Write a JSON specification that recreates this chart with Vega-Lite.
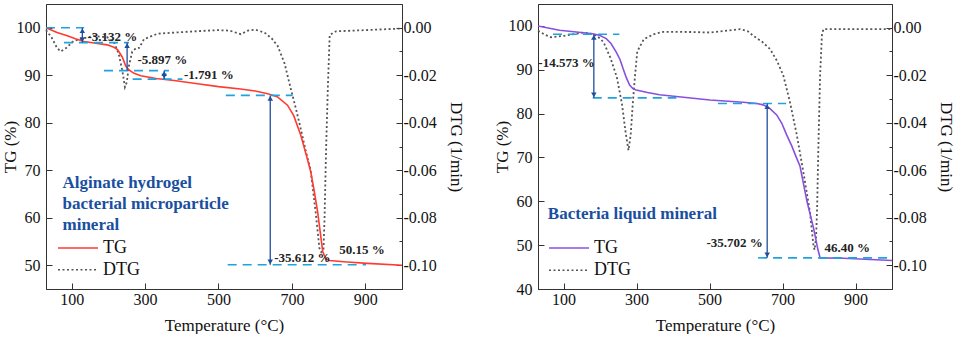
{
  "$schema": "https://vega.github.io/schema/vega-lite/v6.json",
  "padding": {"left": 0, "top": 3, "right": 0, "bottom": 0},
  "background": "white",
  "spacing": 27,
  "datasets": {
    "leftTG": [
      {"T":30,"TG":100},{"T":60,"TG":99.0},{"T":88,"TG":98.3},{"T":110,"TG":97.7},{"T":134,"TG":97.1},
      {"T":170,"TG":96.7},{"T":197,"TG":96.4},{"T":215,"TG":95.9},{"T":225,"TG":95.4},{"T":238,"TG":93.8},
      {"T":247,"TG":92.0},{"T":256,"TG":91.1},{"T":270,"TG":90.4},{"T":288,"TG":89.9},{"T":330,"TG":89.3},
      {"T":379,"TG":88.9},{"T":443,"TG":88.2},{"T":500,"TG":87.6},{"T":560,"TG":87.1},{"T":600,"TG":86.7},
      {"T":634,"TG":86.1},{"T":660,"TG":85.5},{"T":688,"TG":83.7},{"T":705,"TG":81.5},{"T":724,"TG":77.4},
      {"T":740,"TG":73.0},{"T":751,"TG":69.8},{"T":760,"TG":66.0},{"T":770,"TG":61.3},{"T":778,"TG":56.5},
      {"T":784,"TG":52.9},{"T":792,"TG":51.4},{"T":802,"TG":51.0},{"T":850,"TG":50.7},{"T":906,"TG":50.4},
      {"T":1000,"TG":50.0}
    ],
    "leftDTG": [
      {"T":30,"DTG":-0.0010},{"T":45,"DTG":-0.0040},{"T":60,"DTG":-0.0085},{"T":70,"DTG":-0.0100},{"T":85,"DTG":-0.0085},
      {"T":106,"DTG":-0.0055},{"T":130,"DTG":-0.0045},{"T":160,"DTG":-0.0035},{"T":197,"DTG":-0.0040},{"T":215,"DTG":-0.0060},
      {"T":228,"DTG":-0.0110},{"T":238,"DTG":-0.0180},{"T":245,"DTG":-0.0250},{"T":250,"DTG":-0.0230},{"T":256,"DTG":-0.0160},
      {"T":265,"DTG":-0.0100},{"T":276,"DTG":-0.0085},{"T":284,"DTG":-0.0085},{"T":297,"DTG":-0.0048},{"T":334,"DTG":-0.0025},
      {"T":425,"DTG":-0.0016},{"T":497,"DTG":-0.0010},{"T":530,"DTG":-0.0012},{"T":561,"DTG":-0.0027},{"T":580,"DTG":-0.0012},
      {"T":600,"DTG":-0.0008},{"T":625,"DTG":-0.0020},{"T":645,"DTG":-0.0045},{"T":661,"DTG":-0.0076},{"T":680,"DTG":-0.0150},
      {"T":697,"DTG":-0.0257},{"T":710,"DTG":-0.0335},{"T":724,"DTG":-0.0425},{"T":738,"DTG":-0.0520},{"T":751,"DTG":-0.0600},
      {"T":765,"DTG":-0.0780},{"T":775,"DTG":-0.0928},{"T":780,"DTG":-0.0945},{"T":786,"DTG":-0.0935},{"T":789,"DTG":-0.0800},
      {"T":793,"DTG":-0.0520},{"T":798,"DTG":-0.0250},{"T":803,"DTG":-0.0030},{"T":820,"DTG":-0.0015},{"T":900,"DTG":-0.0010},
      {"T":1000,"DTG":-0.0003}
    ],
    "rightTG": [
      {"T":30,"TG":100},{"T":89,"TG":99.0},{"T":135,"TG":98.6},{"T":180,"TG":98.2},{"T":200,"TG":97.8},
      {"T":217,"TG":97.1},{"T":230,"TG":96.0},{"T":244,"TG":94.1},{"T":255,"TG":92.3},{"T":263,"TG":90.3},
      {"T":272,"TG":88.2},{"T":281,"TG":86.5},{"T":290,"TG":85.7},{"T":299,"TG":85.4},{"T":330,"TG":84.8},
      {"T":363,"TG":84.3},{"T":409,"TG":83.9},{"T":501,"TG":83.1},{"T":592,"TG":82.6},{"T":630,"TG":82.3},
      {"T":647,"TG":82.0},{"T":665,"TG":81.2},{"T":684,"TG":79.7},{"T":698,"TG":77.8},{"T":711,"TG":75.2},
      {"T":725,"TG":72.7},{"T":739,"TG":69.8},{"T":748,"TG":68.0},{"T":767,"TG":60.0},{"T":785,"TG":53.9},
      {"T":797,"TG":49.0},{"T":803,"TG":47.1},{"T":867,"TG":47.0},{"T":1000,"TG":46.5}
    ],
    "rightDTG": [
      {"T":30,"DTG":-0.0013},{"T":50,"DTG":-0.0030},{"T":65,"DTG":-0.0040},{"T":101,"DTG":-0.0034},{"T":156,"DTG":-0.0020},
      {"T":183,"DTG":-0.0027},{"T":200,"DTG":-0.0045},{"T":210,"DTG":-0.0062},{"T":228,"DTG":-0.0125},{"T":246,"DTG":-0.0208},
      {"T":260,"DTG":-0.0320},{"T":270,"DTG":-0.0440},{"T":278,"DTG":-0.0516},{"T":284,"DTG":-0.0450},{"T":290,"DTG":-0.0313},
      {"T":296,"DTG":-0.0200},{"T":302,"DTG":-0.0100},{"T":320,"DTG":-0.0048},{"T":348,"DTG":-0.0027},{"T":374,"DTG":-0.0017},
      {"T":450,"DTG":-0.0018},{"T":501,"DTG":-0.0020},{"T":584,"DTG":-0.0006},{"T":605,"DTG":-0.0015},{"T":620,"DTG":-0.0034},
      {"T":645,"DTG":-0.0060},{"T":666,"DTG":-0.0090},{"T":685,"DTG":-0.0140},{"T":702,"DTG":-0.0200},{"T":720,"DTG":-0.0310},
      {"T":739,"DTG":-0.0450},{"T":757,"DTG":-0.0607},{"T":775,"DTG":-0.0774},{"T":785,"DTG":-0.0920},{"T":788,"DTG":-0.0935},
      {"T":792,"DTG":-0.0880},{"T":795,"DTG":-0.0750},{"T":798,"DTG":-0.0520},{"T":803,"DTG":-0.0200},{"T":808,"DTG":-0.0030},
      {"T":812,"DTG":-0.0006},{"T":900,"DTG":-0.0006},{"T":1000,"DTG":-0.0006}
    ],
    "leftDash": [
      {"T":30,"T2":134,"y":100},{"T":79,"T2":256,"y":96.87},{"T":188,"T2":365,"y":90.97},
      {"T":266,"T2":402,"y":89.18},{"T":520,"T2":702,"y":85.76},{"T":525,"T2":902,"y":50.1}
    ],
    "leftArrow": [
      {"T":129,"y":100,"y2":96.87},{"T":251,"y":96.87,"y2":91.0},{"T":352,"y":90.97,"y2":89.18},{"T":641,"y":85.76,"y2":50.1}
    ],
    "leftUp": [{"T":129,"y":100},{"T":251,"y":96.87},{"T":352,"y":90.97},{"T":641,"y":85.76}],
    "leftDown": [{"T":129,"y":96.87},{"T":352,"y":89.18},{"T":641,"y":50.1}],
    "leftText": [
      {"T":143,"y":98.1,"label":"-3.132 %"},{"T":279,"y":93.3,"label":"-5.897 %"},{"T":406,"y":90.15,"label":"-1.791 %"},
      {"T":652,"y":51.5,"label":"-35.612 %"},{"T":829,"y":53.25,"label":"50.15 %"}
    ],
    "leftTitle": [
      {"T":75,"y":67.4,"label":"Alginate hydrogel"},{"T":75,"y":62.9,"label":"bacterial microparticle"},{"T":75,"y":58.5,"label":"mineral"}
    ],
    "rightDash": [
      {"T":71,"T2":253,"y":98.1},{"T":180,"T2":409,"y":83.6},{"T":523,"T2":710,"y":82.3},{"T":633,"T2":998,"y":47.1}
    ],
    "rightArrow": [{"T":183,"y":98.1,"y2":83.6},{"T":658,"y":82.3,"y2":47.1}],
    "rightUp": [{"T":183,"y":98.1},{"T":658,"y":82.3}],
    "rightDown": [{"T":183,"y":83.6},{"T":658,"y":47.1}],
    "rightTextL": [{"T":31,"y":91.6,"label":"-14.573 %"},{"T":815,"y":49.25,"label":"46.40 %"}],
    "rightTextR": [{"T":646,"y":50.5,"label":"-35.702 %"}],
    "rightTitle": [{"T":57,"y":57.0,"label":"Bacteria liquid mineral"}]
  },
  "config": {
    "font": "Liberation Serif",
    "view": {"stroke": "#333", "strokeWidth": 1},
    "axis": {
      "labelFont": "Liberation Serif", "titleFont": "Liberation Serif",
      "labelFontSize": 16, "titleFontSize": 17, "titleFontWeight": "normal",
      "labelColor": "#111", "titleColor": "#111", "labelOverlap": false, "labelSeparation": -20,
      "domainColor": "#333", "tickColor": "#333", "grid": false
    },
    "legend": {
      "labelFont": "Liberation Serif", "labelFontSize": 18, "labelColor": "#111",
      "orient": "none", "padding": 0, "labelOffset": 4,
      "symbolStrokeWidth": 1.6, "symbolSize": 1600
    },
    "text": {"font": "Liberation Serif"}
  },
  "resolve": {
    "scale": {"color": "independent", "strokeDash": "independent"},
    "legend": {"color": "independent", "strokeDash": "independent"}
  },
  "hconcat": [
    {
      "width": 356, "height": 285,
      "resolve": {"scale": {"y": "independent"}},
      "layer": [
        {
          "data": {"name": "leftDTG"},
          "mark": {"type": "line", "strokeWidth": 1.8, "color": "#555555"},
          "encoding": {
            "x": {"field": "T", "type": "quantitative", "scale": {"domain": [30, 1000], "nice": false, "zero": false},
              "axis": {"title": "Temperature (°C)", "values": [100,200,300,400,500,600,700,800,900,1000], "format": "d",
                "labelOverlap": false, "labelSeparation": -20, "labelFlush": false, "tickSize": -6, "labelPadding": 8, "titlePadding": 10}},
            "y": {"field": "DTG", "type": "quantitative", "scale": {"domain": [-0.11, 0.01], "nice": false, "zero": false},
              "axis": {"orient": "right", "title": "DTG (1/min)", "values": [-0.1,-0.09,-0.08,-0.07,-0.06,-0.05,-0.04,-0.03,-0.02,-0.01,0],
                "labelOverlap": false, "labelSeparation": -20,
                "labelExpr": "round(datum.value*100) % 2 === 0 ? replace(format(datum.value, '.2f'), '\u2212', '-') : ''",
                "tickSize": {"condition": {"test": "round(datum.value*100) % 2 === 0", "value": -6}, "value": -3},
                "labelPadding": 7, "titlePadding": 10}},
            "strokeDash": {"datum": "DTG", "type": "nominal", "scale": {"domain": ["DTG"], "range": [[2, 2.5]]}, "legend": {"title": null, "legendX": 11, "legendY": 244.7}}
          }
        },
        {
          "layer": [
            {
              "data": {"name": "leftTG"},
              "mark": {"type": "line", "strokeWidth": 1.6},
              "encoding": {
                "x": {"field": "T", "type": "quantitative", "scale": {"domain": [30, 1000], "nice": false, "zero": false},
                  "axis": {"title": "Temperature (°C)", "values": [100,200,300,400,500,600,700,800,900,1000], "format": "d",
                    "labelOverlap": false, "labelSeparation": -20, "labelFlush": false, "tickSize": -6, "labelPadding": 8, "titlePadding": 10}},
                "y": {"field": "TG", "type": "quantitative", "scale": {"domain": [45, 105], "nice": false, "zero": false},
                  "axis": {"orient": "left", "title": "TG (%)", "values": [50,55,60,65,70,75,80,85,90,95,100],
                    "labelOverlap": false, "labelSeparation": -20,
                    "labelExpr": "datum.value % 10 === 0 ? datum.label : ''",
                    "tickSize": {"condition": {"test": "datum.value % 10 === 0", "value": -6}, "value": -3},
                    "labelPadding": 12, "titlePadding": -3}},
                "color": {"datum": "TG", "type": "nominal", "scale": {"domain": ["TG"], "range": ["#ff3b30"]}, "legend": {"title": null, "legendX": 11, "legendY": 223}}
              }
            },
            {
              "data": {"name": "leftDash"},
              "mark": {"type": "rule", "color": "#1fa3e0", "strokeWidth": 1.6, "strokeDash": [9, 6]},
              "encoding": {
                "x": {"field": "T", "type": "quantitative", "scale": {"domain": [30, 1000], "nice": false, "zero": false}},
                "x2": {"field": "T2"},
                "y": {"field": "y", "type": "quantitative", "scale": {"domain": [45, 105], "nice": false, "zero": false}}
              }
            },
            {
              "data": {"name": "leftArrow"},
              "mark": {"type": "rule", "color": "#1f4e9c", "strokeWidth": 1.3},
              "encoding": {
                "x": {"field": "T", "type": "quantitative", "scale": {"domain": [30, 1000], "nice": false, "zero": false}},
                "y": {"field": "y", "type": "quantitative", "scale": {"domain": [45, 105], "nice": false, "zero": false}},
                "y2": {"field": "y2"}
              }
            },
            {
              "data": {"name": "leftUp"},
              "mark": {"type": "point", "shape": "triangle-up", "filled": true, "size": 30, "color": "#1f4e9c", "opacity": 1, "yOffset": 3},
              "encoding": {
                "x": {"field": "T", "type": "quantitative", "scale": {"domain": [30, 1000], "nice": false, "zero": false}},
                "y": {"field": "y", "type": "quantitative", "scale": {"domain": [45, 105], "nice": false, "zero": false}}
              }
            },
            {
              "data": {"name": "leftDown"},
              "mark": {"type": "point", "shape": "triangle-down", "filled": true, "size": 30, "color": "#1f4e9c", "opacity": 1, "yOffset": -3},
              "encoding": {
                "x": {"field": "T", "type": "quantitative", "scale": {"domain": [30, 1000], "nice": false, "zero": false}},
                "y": {"field": "y", "type": "quantitative", "scale": {"domain": [45, 105], "nice": false, "zero": false}}
              }
            },
            {
              "data": {"name": "leftText"},
              "mark": {"type": "text", "align": "left", "baseline": "middle", "fontSize": 13, "fontWeight": "bold", "color": "#222"},
              "encoding": {
                "x": {"field": "T", "type": "quantitative", "scale": {"domain": [30, 1000], "nice": false, "zero": false}},
                "y": {"field": "y", "type": "quantitative", "scale": {"domain": [45, 105], "nice": false, "zero": false}},
                "text": {"field": "label"}
              }
            },
            {
              "data": {"name": "leftTitle"},
              "mark": {"type": "text", "align": "left", "baseline": "middle", "fontSize": 17, "fontWeight": "bold", "color": "#1a4fa0"},
              "encoding": {
                "x": {"field": "T", "type": "quantitative", "scale": {"domain": [30, 1000], "nice": false, "zero": false}},
                "y": {"field": "y", "type": "quantitative", "scale": {"domain": [45, 105], "nice": false, "zero": false}},
                "text": {"field": "label"}
              }
            }
          ]
        }
      ]
    },
    {
      "width": 354, "height": 285,
      "resolve": {"scale": {"y": "independent"}},
      "layer": [
        {
          "data": {"name": "rightDTG"},
          "mark": {"type": "line", "strokeWidth": 1.8, "color": "#555555"},
          "encoding": {
            "x": {"field": "T", "type": "quantitative", "scale": {"domain": [30, 1000], "nice": false, "zero": false},
              "axis": {"title": "Temperature (°C)", "values": [100,200,300,400,500,600,700,800,900,1000], "format": "d",
                "labelOverlap": false, "labelSeparation": -20, "labelFlush": false, "tickSize": -6, "labelPadding": 8, "titlePadding": 10}},
            "y": {"field": "DTG", "type": "quantitative", "scale": {"domain": [-0.11, 0.01], "nice": false, "zero": false},
              "axis": {"orient": "right", "title": "DTG (1/min)", "values": [-0.1,-0.09,-0.08,-0.07,-0.06,-0.05,-0.04,-0.03,-0.02,-0.01,0],
                "labelOverlap": false, "labelSeparation": -20,
                "labelExpr": "round(datum.value*100) % 2 === 0 ? replace(format(datum.value, '.2f'), '\u2212', '-') : ''",
                "tickSize": {"condition": {"test": "round(datum.value*100) % 2 === 0", "value": -6}, "value": -3},
                "labelPadding": 7, "titlePadding": 10}},
            "strokeDash": {"datum": "DTG", "type": "nominal", "scale": {"domain": ["DTG"], "range": [[2, 2.5]]}, "legend": {"title": null, "legendX": 10, "legendY": 245.3}}
          }
        },
        {
          "layer": [
            {
              "data": {"name": "rightTG"},
              "mark": {"type": "line", "strokeWidth": 1.6},
              "encoding": {
                "x": {"field": "T", "type": "quantitative", "scale": {"domain": [30, 1000], "nice": false, "zero": false},
                  "axis": {"title": "Temperature (°C)", "values": [100,200,300,400,500,600,700,800,900,1000], "format": "d",
                    "labelOverlap": false, "labelSeparation": -20, "labelFlush": false, "tickSize": -6, "labelPadding": 8, "titlePadding": 10}},
                "y": {"field": "TG", "type": "quantitative", "scale": {"domain": [40, 105], "nice": false, "zero": false},
                  "axis": {"orient": "left", "title": "TG (%)", "values": [40,45,50,55,60,65,70,75,80,85,90,95,100],
                    "labelOverlap": false, "labelSeparation": -20,
                    "labelExpr": "datum.value % 10 === 0 ? datum.label : ''",
                    "tickSize": {"condition": {"test": "datum.value % 10 === 0", "value": -6}, "value": -3},
                    "labelPadding": 12, "titlePadding": -3}},
                "color": {"datum": "TG", "type": "nominal", "scale": {"domain": ["TG"], "range": ["#8a4fe0"]}, "legend": {"title": null, "legendX": 10, "legendY": 223}}
              }
            },
            {
              "data": {"name": "rightDash"},
              "mark": {"type": "rule", "color": "#1fa3e0", "strokeWidth": 1.6, "strokeDash": [9, 6]},
              "encoding": {
                "x": {"field": "T", "type": "quantitative", "scale": {"domain": [30, 1000], "nice": false, "zero": false}},
                "x2": {"field": "T2"},
                "y": {"field": "y", "type": "quantitative", "scale": {"domain": [40, 105], "nice": false, "zero": false}}
              }
            },
            {
              "data": {"name": "rightArrow"},
              "mark": {"type": "rule", "color": "#1f4e9c", "strokeWidth": 1.3},
              "encoding": {
                "x": {"field": "T", "type": "quantitative", "scale": {"domain": [30, 1000], "nice": false, "zero": false}},
                "y": {"field": "y", "type": "quantitative", "scale": {"domain": [40, 105], "nice": false, "zero": false}},
                "y2": {"field": "y2"}
              }
            },
            {
              "data": {"name": "rightUp"},
              "mark": {"type": "point", "shape": "triangle-up", "filled": true, "size": 30, "color": "#1f4e9c", "opacity": 1, "yOffset": 3},
              "encoding": {
                "x": {"field": "T", "type": "quantitative", "scale": {"domain": [30, 1000], "nice": false, "zero": false}},
                "y": {"field": "y", "type": "quantitative", "scale": {"domain": [40, 105], "nice": false, "zero": false}}
              }
            },
            {
              "data": {"name": "rightDown"},
              "mark": {"type": "point", "shape": "triangle-down", "filled": true, "size": 30, "color": "#1f4e9c", "opacity": 1, "yOffset": -3},
              "encoding": {
                "x": {"field": "T", "type": "quantitative", "scale": {"domain": [30, 1000], "nice": false, "zero": false}},
                "y": {"field": "y", "type": "quantitative", "scale": {"domain": [40, 105], "nice": false, "zero": false}}
              }
            },
            {
              "data": {"name": "rightTextL"},
              "mark": {"type": "text", "align": "left", "baseline": "middle", "fontSize": 13, "fontWeight": "bold", "color": "#222"},
              "encoding": {
                "x": {"field": "T", "type": "quantitative", "scale": {"domain": [30, 1000], "nice": false, "zero": false}},
                "y": {"field": "y", "type": "quantitative", "scale": {"domain": [40, 105], "nice": false, "zero": false}},
                "text": {"field": "label"}
              }
            },
            {
              "data": {"name": "rightTextR"},
              "mark": {"type": "text", "align": "right", "baseline": "middle", "fontSize": 13, "fontWeight": "bold", "color": "#222"},
              "encoding": {
                "x": {"field": "T", "type": "quantitative", "scale": {"domain": [30, 1000], "nice": false, "zero": false}},
                "y": {"field": "y", "type": "quantitative", "scale": {"domain": [40, 105], "nice": false, "zero": false}},
                "text": {"field": "label"}
              }
            },
            {
              "data": {"name": "rightTitle"},
              "mark": {"type": "text", "align": "left", "baseline": "middle", "fontSize": 17, "fontWeight": "bold", "color": "#1a4fa0"},
              "encoding": {
                "x": {"field": "T", "type": "quantitative", "scale": {"domain": [30, 1000], "nice": false, "zero": false}},
                "y": {"field": "y", "type": "quantitative", "scale": {"domain": [40, 105], "nice": false, "zero": false}},
                "text": {"field": "label"}
              }
            }
          ]
        }
      ]
    }
  ]
}
